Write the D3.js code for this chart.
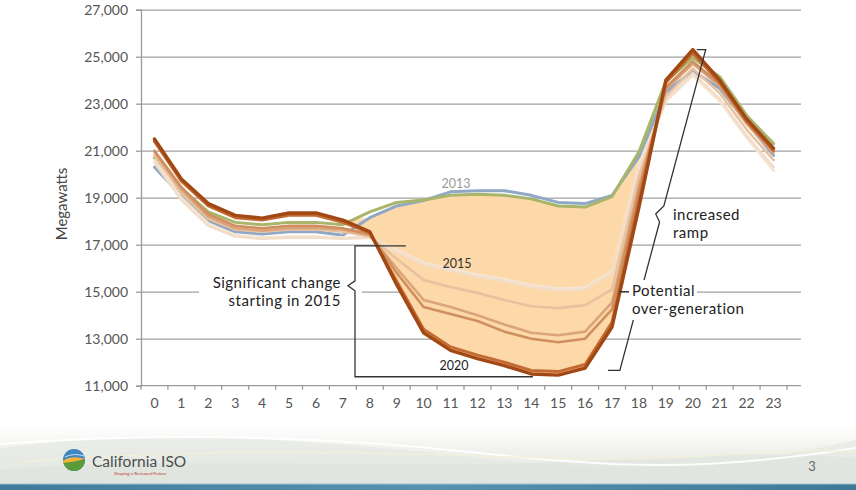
<!DOCTYPE html>
<html><head><meta charset="utf-8">
<script src="https://cdn.jsdelivr.net/npm/d3@7"></script>
<style>
html,body{margin:0;padding:0;background:#fff;overflow:hidden}
svg{display:block}
text{font-family:Lato,"Open Sans",sans-serif}
</style></head><body>
<svg id="chart" width="856" height="490"></svg>
<script>
// Hour of day (categories)
const hours = [0,1,2,3,4,5,6,7,8,9,10,11,12,13,14,15,16,17,18,19,20,21,22,23];

// Net load in megawatts, one array per year
const load2012 = [20300,19100,18000,17550,17450,17550,17550,17400,18150,18650,18880,19250,19300,19300,19100,18800,18750,19100,20750,23500,24400,23650,22200,20800];
const load2013 = [20700,19400,18400,17950,17850,17950,17950,17850,18400,18800,18900,19100,19150,19100,18950,18650,18600,19050,20950,23950,24950,24150,22500,21300];
const load2014 = [20600,19000,17900,17400,17300,17350,17350,17300,17320,16780,16230,15980,15730,15530,15280,15130,15180,15880,20400,23100,24200,23100,21550,20150];
const load2015 = [20500,18900,17800,17350,17250,17300,17300,17250,17300,16700,16150,15900,15650,15450,15200,15050,15100,15800,20200,23150,24300,23200,21650,20300];
const load2016 = [20800,19200,18100,17650,17550,17650,17650,17550,17350,16400,15500,15200,14950,14650,14380,14300,14430,15100,19900,23300,24500,23450,21900,20600];
const load2017 = [20950,19350,18200,17700,17600,17700,17700,17650,17400,16000,14650,14350,14000,13600,13250,13150,13300,14550,19500,23600,24700,23750,22150,20900];
const load2018 = [21000,19450,18300,17800,17700,17800,17800,17700,17450,15800,14350,14050,13750,13300,13000,12850,13000,14250,19300,23700,24800,23850,22300,21000];
const load2019 = [21400,19700,18650,18150,18050,18250,18250,17950,17500,15450,13400,12650,12300,12000,11650,11600,11900,13700,18900,23900,25150,23900,22250,21000];
const load2020 = [21500,19800,18750,18250,18130,18350,18350,18050,17550,15300,13250,12500,12150,11850,11500,11450,11750,13500,18600,24000,25300,24000,22350,21100];

const years = ["2012","2013","2014","2015","2016","2017","2018","2019","2020"];
const yearLoads = [load2012,load2013,load2014,load2015,load2016,load2017,load2018,load2019,load2020];
const yearColors = ["#8fa8c5","#a9b56a","#f6e4d4","#f2ddc9","#e8c2a0","#dba47a","#cf8f5e","#c46b33","#a14814"];
const yearWidths = [3,3,2.6,2.6,2.6,2.6,2.6,3,3.4];

// Axis tick values
const yTicks = [11000,13000,15000,17000,19000,21000,23000,25000,27000];

const W = 856, H = 490;
const plot = {left:141, right:801, bandRight:787, top:9.7, bottom:385.7};

const svg = d3.select("#chart");

const x = d3.scaleBand().domain(hours).range([plot.left, plot.bandRight]);
const xc = h => x(h) + x.bandwidth() / 2;
const xh = t => xc(0) + t * x.step();      // fractional hour -> px
const y = d3.scaleLinear().domain([11000, 27000]).range([plot.bottom, plot.top]);

// ---------- footer band ----------
const defs = svg.append("defs");
const fg = defs.append("linearGradient").attr("id","foot").attr("x1",0).attr("y1",0).attr("x2",0).attr("y2",1);
fg.append("stop").attr("offset",0).attr("stop-color","#ffffff");
fg.append("stop").attr("offset",0.45).attr("stop-color","#eff0ec");
fg.append("stop").attr("offset",1).attr("stop-color","#e1e5e1");
const bar = defs.append("linearGradient").attr("id","bar").attr("x1",0).attr("y1",0).attr("x2",1).attr("y2",0);
bar.append("stop").attr("offset",0).attr("stop-color","#3f7c9c");
bar.append("stop").attr("offset",0.5).attr("stop-color","#5793b0");
bar.append("stop").attr("offset",1).attr("stop-color","#3d7898");

svg.append("rect").attr("x",0).attr("y",426).attr("width",W).attr("height",60).attr("fill","url(#foot)");
svg.append("path").attr("d","M0,448 C150,428 330,440 480,458 S720,470 856,440 L856,486 L0,486Z")
  .attr("fill","#e4e8e3").attr("opacity",0.7);
svg.append("path").attr("d","M0,470 C180,455 380,470 560,462 S760,452 856,458 L856,486 L0,486Z")
  .attr("fill","#dde2dd").attr("opacity",0.6);
svg.append("path").attr("d","M0,444 C160,432 320,436 470,452 S700,472 856,448")
  .attr("fill","none").attr("stroke","#ffffff").attr("stroke-width",2).attr("opacity",0.9);
svg.append("path").attr("d","M20,462 C200,448 380,452 540,458 S760,446 856,452")
  .attr("fill","none").attr("stroke","#f3f0d8").attr("stroke-width",1.5).attr("opacity",0.9);
svg.append("rect").attr("x",0).attr("y",484).attr("width",W).attr("height",6).attr("fill","url(#bar)");
svg.append("line").attr("x1",0).attr("x2",W).attr("y1",484).attr("y2",484).attr("stroke","#9cc3d4").attr("stroke-width",1);

// logo
const logo = svg.append("g").attr("transform","translate(74,460)");
logo.append("circle").attr("r",11).attr("fill","#3d86bf");
logo.append("path").attr("d","M-11,0 A11,11 0 0,0 11,0 Z").attr("fill","#5c9b3a");
logo.append("path").attr("d","M-11,1 C-5,-4 4,-3 11,-1 C4,1 -4,2 -11,3 Z").attr("fill","#f2b43c");
logo.append("path").attr("d","M-9,-3 C-3,-6 4,-6 10,-4").attr("fill","none").attr("stroke","#cfe6f4").attr("stroke-width",1);
svg.append("text").attr("x",92).attr("y",467).attr("font-size",15.5).attr("fill","#4d4d4d").text("California ISO");
svg.append("text").attr("x",114).attr("y",475).attr("font-size",4.5).attr("fill","#c0392b").text("Shaping a Renewed Future");
svg.append("text").attr("x",812).attr("y",471).attr("font-size",13).attr("fill","#666").attr("text-anchor","middle").text("3");

// ---------- gridlines ----------
svg.append("g").attr("transform",`translate(${plot.left},0)`)
  .call(d3.axisLeft(y).tickValues(yTicks.slice(1)).tickSize(-(plot.right - plot.left)).tickFormat(""))
  .call(g => g.select(".domain").remove())
  .selectAll("line").attr("stroke","#a2a2a2").attr("stroke-width",1.3);

// ---------- y axis ----------
const yAxis = svg.append("g").attr("transform",`translate(${plot.left},0)`)
  .call(d3.axisLeft(y).tickValues(yTicks).tickFormat(d3.format(",")).tickSize(5).tickPadding(8));
yAxis.select(".domain").attr("stroke","#9a9a9a").attr("stroke-width",1.3);
yAxis.selectAll("line").attr("stroke","#9a9a9a").attr("stroke-width",1.3);
yAxis.selectAll("text").attr("font-size",14).attr("fill","#555").style("font-family","Lato, sans-serif");

svg.append("text").attr("transform","translate(67,204) rotate(-90)").attr("text-anchor","middle")
  .attr("font-size",15).attr("fill","#444").text("Megawatts");

// ---------- x axis ----------
const xAxis = svg.append("g").attr("transform",`translate(0,${plot.bottom})`)
  .call(d3.axisBottom(x).tickSize(0).tickPadding(12));
xAxis.select(".domain").remove();
xAxis.selectAll("text").attr("font-size",14).attr("fill","#555").style("font-family","Lato, sans-serif");
svg.append("line").attr("x1",plot.left).attr("x2",plot.right).attr("y1",plot.bottom).attr("y2",plot.bottom)
  .attr("stroke","#9a9a9a").attr("stroke-width",1.3);
svg.append("g").selectAll("line").data(d3.range(hours.length + 1)).join("line")
  .attr("x1", i => plot.left + i * x.step()).attr("x2", i => plot.left + i * x.step())
  .attr("y1", plot.bottom).attr("y2", plot.bottom + 4)
  .attr("stroke","#9a9a9a").attr("stroke-width",1.3);

// ---------- shaded belly between the actual years and 2020 ----------
const topEdge = hours.map(h => Math.min(load2012[h], load2013[h]));
const bellyHours = hours.filter(h => h >= 7 && h <= 19);
svg.append("path").datum(bellyHours)
  .attr("d", d3.area().x(h => xc(h)).y0(h => y(load2020[h])).y1(h => y(Math.max(load2020[h], topEdge[h]))))
  .attr("fill","#fdd8a8");

// ---------- year lines ----------
const line = d3.line().x((d,i) => xc(hours[i])).y(d => y(d));
svg.append("g").selectAll("path").data(yearLoads).join("path")
  .attr("d", d => line(d))
  .attr("fill","none")
  .attr("stroke",(d,i) => yearColors[i])
  .attr("stroke-width",(d,i) => yearWidths[i])
  .attr("stroke-linejoin","round").attr("stroke-linecap","round");

// year labels
svg.append("text").attr("x",456).attr("y",188).attr("text-anchor","middle").attr("font-size",12.5).attr("fill","#9a9a9a").text("2013");
svg.append("text").attr("x",457).attr("y",268).attr("text-anchor","middle").attr("font-size",12.5).attr("fill","#333").text("2015");
svg.append("text").attr("x",454).attr("y",370).attr("text-anchor","middle").attr("font-size",12.5).attr("fill","#222").text("2020");

// ---------- annotation: significant change ----------
const noteSize = 15, noteSpacing = 0.5;
svg.append("rect").attr("x",199).attr("y",270).attr("width",163).attr("height",40).attr("fill","#fff");
const bx = xh(7.45);
const sigPath = d3.path();
sigPath.moveTo(xh(9.34), y(16950));
sigPath.lineTo(bx, y(16950));
sigPath.lineTo(bx, y(15250) - 5);
sigPath.lineTo(bx - 7, y(15250));
sigPath.lineTo(bx, y(15250) + 5);
sigPath.lineTo(bx, y(11380));
sigPath.lineTo(xh(14.06), y(11380));
svg.append("path").attr("d", sigPath.toString()).attr("fill","none").attr("stroke","#333").attr("stroke-width",1.3);
svg.append("text").attr("x",341).attr("y",288).attr("text-anchor","end").attr("font-size",noteSize)
  .attr("letter-spacing",noteSpacing).attr("fill","#222").text("Significant change");
svg.append("text").attr("x",341).attr("y",306).attr("text-anchor","end").attr("font-size",noteSize)
  .attr("letter-spacing",noteSpacing).attr("fill","#222").text("starting in 2015");

// ---------- annotation: ramp / over-generation ----------
const rampTop = [xh(20.48), y(25300)], rampBot = [xh(17.29), y(11650)];
const onLine = py => [rampTop[0] + (py - rampTop[1]) / (rampBot[1] - rampTop[1]) * (rampBot[0] - rampTop[0]), py];
const nA = onLine(206), nB = onLine(222), nT = onLine(214);
const rampPath = d3.path();
rampPath.moveTo(xh(20.15), rampTop[1]);
rampPath.lineTo(rampTop[0], rampTop[1]);
rampPath.lineTo(nA[0], nA[1]);
rampPath.lineTo(nT[0] - 6, nT[1]);
rampPath.lineTo(nB[0], nB[1]);
rampPath.lineTo(rampBot[0], rampBot[1]);
rampPath.lineTo(xh(16.85), rampBot[1]);
svg.append("path").attr("d", rampPath.toString()).attr("fill","none").attr("stroke","#333").attr("stroke-width",1.3);
svg.append("text").attr("x",673).attr("y",220).attr("font-size",noteSize).attr("letter-spacing",noteSpacing).attr("fill","#222").text("increased");
svg.append("text").attr("x",673).attr("y",238).attr("font-size",noteSize).attr("letter-spacing",noteSpacing).attr("fill","#222").text("ramp");

svg.append("rect").attr("x",629).attr("y",280).attr("width",68).attr("height",21).attr("fill","#fff");
svg.append("rect").attr("x",629).attr("y",301).attr("width",118).attr("height",19).attr("fill","#fff");
svg.append("line").attr("x1",619).attr("x2",629).attr("y1",y(15000)).attr("y2",y(15000)).attr("stroke","#333").attr("stroke-width",1.3);
svg.append("text").attr("x",632).attr("y",296).attr("font-size",noteSize).attr("letter-spacing",noteSpacing).attr("fill","#222").text("Potential");
svg.append("text").attr("x",632).attr("y",314).attr("font-size",noteSize).attr("letter-spacing",noteSpacing).attr("fill","#222").text("over-generation");
</script>
</body></html>
